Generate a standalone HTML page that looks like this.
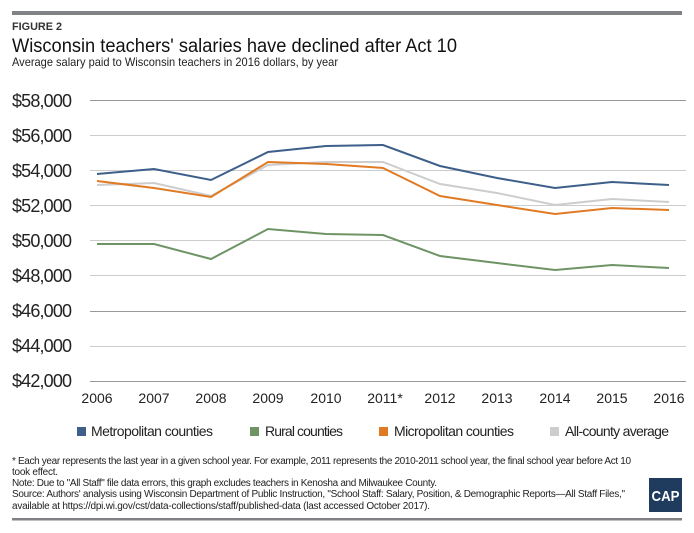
<!DOCTYPE html>
<html><head><style>
body{margin:0;background:#fff;}
#c{position:relative;width:694px;height:533px;overflow:hidden;}
</style></head><body><div id="c">
<svg style="position:absolute;left:0;top:0" width="694" height="533" font-family="Liberation Sans,sans-serif">
<rect x="12" y="11" width="670" height="4" fill="#808285"/>
<text x="12" y="30" font-size="11" font-weight="bold" fill="#333" textLength="50" lengthAdjust="spacingAndGlyphs">FIGURE 2</text>
<text x="12" y="52" font-size="19" fill="#111" textLength="445" lengthAdjust="spacingAndGlyphs">Wisconsin teachers' salaries have declined after Act 10</text>
<text x="12" y="66" font-size="12" fill="#222" textLength="326" lengthAdjust="spacingAndGlyphs">Average salary paid to Wisconsin teachers in 2016 dollars, by year</text>
<g stroke-width="1">
<line x1="90" x2="686" y1="100.5" y2="100.5" stroke="#999"/><line x1="90" x2="686" y1="135.5" y2="135.5" stroke="#ccc"/>
<line x1="90" x2="686" y1="170.5" y2="170.5" stroke="#ccc"/><line x1="90" x2="686" y1="205.5" y2="205.5" stroke="#ccc"/>
<line x1="90" x2="686" y1="240.5" y2="240.5" stroke="#ccc"/><line x1="90" x2="686" y1="275.5" y2="275.5" stroke="#ccc"/>
<line x1="90" x2="686" y1="311.5" y2="311.5" stroke="#999"/><line x1="90" x2="686" y1="346.5" y2="346.5" stroke="#ccc"/>
<line x1="90" x2="686" y1="381.5" y2="381.5" stroke="#999"/>
</g>
<g font-size="18" fill="#222" lengthAdjust="spacing">
<text x="12" y="107" textLength="60">$58,000</text><text x="12" y="142" textLength="60">$56,000</text><text x="12" y="177" textLength="60">$54,000</text>
<text x="12" y="212" textLength="60">$52,000</text><text x="12" y="247" textLength="60">$50,000</text><text x="12" y="282" textLength="60">$48,000</text>
<text x="12" y="317" textLength="60">$46,000</text><text x="12" y="352" textLength="60">$44,000</text><text x="12" y="387" textLength="60">$42,000</text>
</g>
<g font-size="14" fill="#222" text-anchor="middle">
<text x="97" y="403">2006</text><text x="154" y="403">2007</text><text x="211" y="403">2008</text>
<text x="268" y="403">2009</text><text x="326" y="403">2010</text><text x="385" y="403">2011*</text>
<text x="440" y="403">2012</text><text x="497" y="403">2013</text><text x="555" y="403">2014</text>
<text x="612" y="403">2015</text><text x="669" y="403">2016</text>
</g>
<g fill="none" stroke-width="2">
<polyline stroke="#cdcdcd" points="97,185 154,183 211,196 268,165 326,162 383,162 440,184 497,193 555,205 612,199 669,202"/>
<polyline stroke="#e07b24" points="97,181 154,188 211,197 268,162 326,164 383,168 440,196 497,205 555,214 612,208 669,210"/>
<polyline stroke="#3d5f8a" points="97,174 154,169 211,180 268,152 326,146 383,145 440,166 497,178 555,188 612,182 669,185"/>
<polyline stroke="#6e9466" points="97,244 154,244 211,259 268,229 326,234 383,235 440,256 497,263 555,270 612,265 669,268"/>
</g>
<g font-size="14" fill="#222" lengthAdjust="spacingAndGlyphs">
<rect x="77" y="427" width="9" height="9" fill="#3d5f8a"/><text x="91" y="436" textLength="122">Metropolitan counties</text>
<rect x="250" y="427" width="9" height="9" fill="#6e9466"/><text x="265" y="436" textLength="78">Rural counties</text>
<rect x="379" y="427" width="9" height="9" fill="#e07b24"/><text x="394" y="436" textLength="120">Micropolitan counties</text>
<rect x="550" y="427" width="9" height="9" fill="#cdcdcd"/><text x="565" y="436" textLength="104">All-county average</text>
</g>
<g font-size="10" fill="#222" lengthAdjust="spacingAndGlyphs">
<text x="12" y="464" textLength="619">* Each year represents the last year in a given school year. For example, 2011 represents the 2010-2011 school year, the final school year before Act 10</text>
<text x="12" y="475" textLength="46">took effect.</text>
<text x="12" y="486" textLength="425">Note: Due to "All Staff" file data errors, this graph excludes teachers in Kenosha and Milwaukee County.</text>
<text x="12" y="497" textLength="613">Source: Authors' analysis using Wisconsin Department of Public Instruction, "School Staff: Salary, Position, &amp; Demographic Reports—All Staff Files,"</text>
<text x="12" y="509" textLength="418">available at https://dpi.wi.gov/cst/data-collections/staff/published-data (last accessed October 2017).</text>
</g>
<rect x="649" y="478" width="33" height="34" fill="#1f3b5e"/>
<text x="665.5" y="501" font-size="15" font-weight="bold" fill="#fff" text-anchor="middle" textLength="28" lengthAdjust="spacingAndGlyphs">CAP</text>
<rect x="12" y="518" width="670" height="2.5" fill="#808285"/>
</svg>
</div></body></html>
